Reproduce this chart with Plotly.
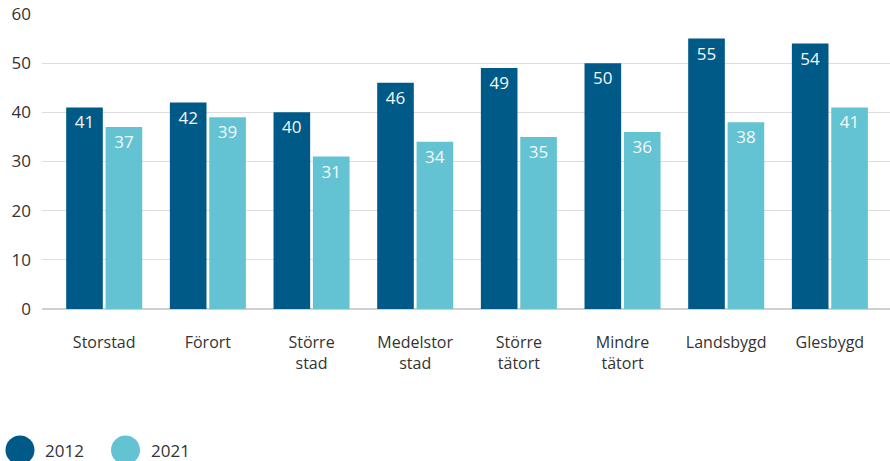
import plotly.graph_objects as go

categories = ["Storstad", "Förort", "Större<br>stad", "Medelstor<br>stad", "Större<br>tätort",
              "Mindre<br>tätort", "Landsbygd", "Glesbygd"]
values_2012 = [41, 42, 40, 46, 49, 50, 55, 54]
values_2021 = [37, 39, 31, 34, 35, 36, 38, 41]
series_names = ["2012", "2021"]
colors = ["#005A87", "#64C3D2"]
y_ticks = [0, 10, 20, 30, 40, 50, 60]

FONT = "Open Sans, Noto Sans, sans-serif"
ML, MT, MB, W, H = 42, 14, 152, 890, 461
plot_h = H - MT - MB
plot_w = W - ML

fig = go.Figure()
for name, vals, col in zip(series_names, [values_2012, values_2021], colors):
    fig.add_trace(go.Bar(
        x=categories, y=vals, name=name, marker=dict(color=col, line=dict(width=0)),
        text=[str(v) for v in vals], textposition="inside", insidetextanchor="end",
        textfont=dict(color="#f4f8fa", size=17, family=FONT), textangle=0,
        showlegend=False, hoverinfo="x+y",
    ))

# legend drawn as circles + text below the chart
legend_x = [20, 125.5]
legend_y_px = 450
cy = -(legend_y_px - MT - plot_h) / plot_h
for i, (name, col) in enumerate(zip(series_names, colors)):
    fig.add_shape(type="circle", xref="paper", yref="paper", xsizemode="pixel", ysizemode="pixel",
                  xanchor=(legend_x[i] - ML) / plot_w, yanchor=cy,
                  x0=-14.5, x1=14.5, y0=-14.5, y1=14.5,
                  fillcolor=col, line=dict(width=0))
    fig.add_annotation(text=name, xref="paper", yref="paper",
                       x=(legend_x[i] + 23 - ML) / plot_w, y=cy, xanchor="left", yanchor="middle",
                       showarrow=False, font=dict(size=17, color="#333333", family=FONT))

fig.update_layout(
    width=W, height=H,
    margin=dict(l=ML, r=0, t=MT, b=MB, autoexpand=False),
    paper_bgcolor="white", plot_bgcolor="white",
    font=dict(family=FONT, size=16, color="#333333"),
    barmode="group", bargap=0.24, bargroupgap=0.07,
    xaxis=dict(range=[-0.6, 7.58], showgrid=False, showline=False, ticks="", automargin=False,
               tickfont=dict(size=16, color="#333333"), ticklabelstandoff=22),
    yaxis=dict(range=[0, 60], tickvals=y_ticks, showgrid=True, gridcolor="#dddddd", gridwidth=1,
               zeroline=True, zerolinecolor="#d0d0d0", zerolinewidth=1.5, automargin=False,
               tickfont=dict(size=17, color="#333333"), ticklabelstandoff=10, fixedrange=True),
)

fig.write_html("out.html", config={"displayModeBar": False},
               post_script="document.body.style.margin='0';document.body.style.overflow='hidden';")
